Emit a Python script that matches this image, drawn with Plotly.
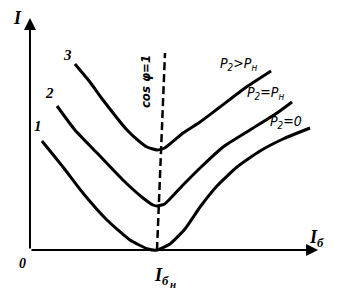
import plotly.graph_objects as go

# Units: I_b in units of I_bn (I_bn = 1), I in arbitrary units
c1_x = [0.094, 0.260, 0.417, 0.606, 0.787, 0.929, 1.000, 1.102, 1.220, 1.339, 1.472, 1.630, 1.811, 1.992, 2.205]
c1_y = [1.09, 0.83, 0.57, 0.30, 0.10, 0.01, 0.00, 0.06, 0.21, 0.43, 0.64, 0.83, 0.99, 1.11, 1.22]

c2_x = [0.213, 0.354, 0.528, 0.732, 0.890, 0.969, 1.000, 1.060, 1.205, 1.339, 1.520, 1.732, 1.945, 2.063]
c2_y = [1.44, 1.20, 0.97, 0.70, 0.52, 0.45, 0.44, 0.46, 0.65, 0.82, 1.03, 1.20, 1.37, 1.48]

c3_x = [0.354, 0.472, 0.575, 0.764, 0.866, 0.921, 1.000, 1.060, 1.205, 1.339, 1.496, 1.693, 1.898]
c3_y = [1.86, 1.68, 1.50, 1.20, 1.08, 1.03, 1.00, 1.02, 1.17, 1.28, 1.43, 1.62, 1.79]

cos_x = [1.000, 1.063]
cos_y = [0.00, 1.97]

curve_numbers = ["1", "2", "3"]
curve_loads = ["P<sub>2</sub>=0", "P<sub>2</sub>=P<sub>н</sub>", "P<sub>2</sub>&gt;P<sub>н</sub>"]

fig = go.Figure()
for xs, ys in [(c1_x, c1_y), (c2_x, c2_y), (c3_x, c3_y)]:
    fig.add_trace(go.Scatter(x=xs, y=ys, mode="lines",
                             line=dict(color="black", width=3, shape="spline", smoothing=0.5),
                             showlegend=False, hoverinfo="skip"))
fig.add_trace(go.Scatter(x=cos_x, y=cos_y, mode="lines",
                         line=dict(color="black", width=2.5, dash="8px,4px"),
                         showlegend=False, hoverinfo="skip"))

serif = "Liberation Serif"
sans = "DejaVu Sans Condensed, Liberation Sans Narrow, Liberation Sans"

ann = []
# axes arrows
ann.append(dict(x=2.268, y=0, ax=0, ay=0, xref="x", yref="y", axref="x", ayref="y",
                showarrow=True, arrowhead=2, arrowsize=1.2, arrowwidth=2, arrowcolor="black", text=""))
ann.append(dict(x=0, y=2.32, ax=0, ay=0, xref="x", yref="y", axref="x", ayref="y",
                showarrow=True, arrowhead=2, arrowsize=1.2, arrowwidth=2, arrowcolor="black", text=""))

def txt(x, y, t, size, font=serif, angle=0):
    ann.append(dict(x=x, y=y, xref="x", yref="y", text=t, showarrow=False,
                    textangle=angle, font=dict(family=font, size=size, color="black")))

txt(-0.102, 2.32, "<b><i>I</i></b>", 18)
txt(-0.055, -0.13, "<b><i>0</i></b>", 14)
txt(2.255, 0.12, "<b><i>I<sub>б</sub></i></b>", 18)
txt(1.035, -0.26, "<b><i>I<sub>б</sub></i></b>", 18)
txt(1.125, -0.335, "<b><i>н</i></b>", 11)

for (x, y), t in zip([(0.063, 1.24), (0.157, 1.57), (0.299, 1.95)], curve_numbers):
    txt(x, y, "<b><i>" + t + "</i></b>", 15)

txt(0.906, 1.68, "<b><i>cos φ=1</i></b>", 13, font=sans, angle=-90)

for (x, y), t in zip([(2.016, 1.28), (1.858, 1.57), (1.638, 1.86)], curve_loads):
    txt(x, y, "<i>" + t + "</i>", 14, font=sans)

fig.update_layout(
    width=346, height=289,
    margin=dict(l=0, r=0, t=0, b=0),
    paper_bgcolor="white", plot_bgcolor="white",
    xaxis=dict(range=[-0.236, 2.488], visible=False, fixedrange=True),
    yaxis=dict(range=[-0.39, 2.50], visible=False, fixedrange=True),
    annotations=ann,
)
fig.write_html("out.html")
